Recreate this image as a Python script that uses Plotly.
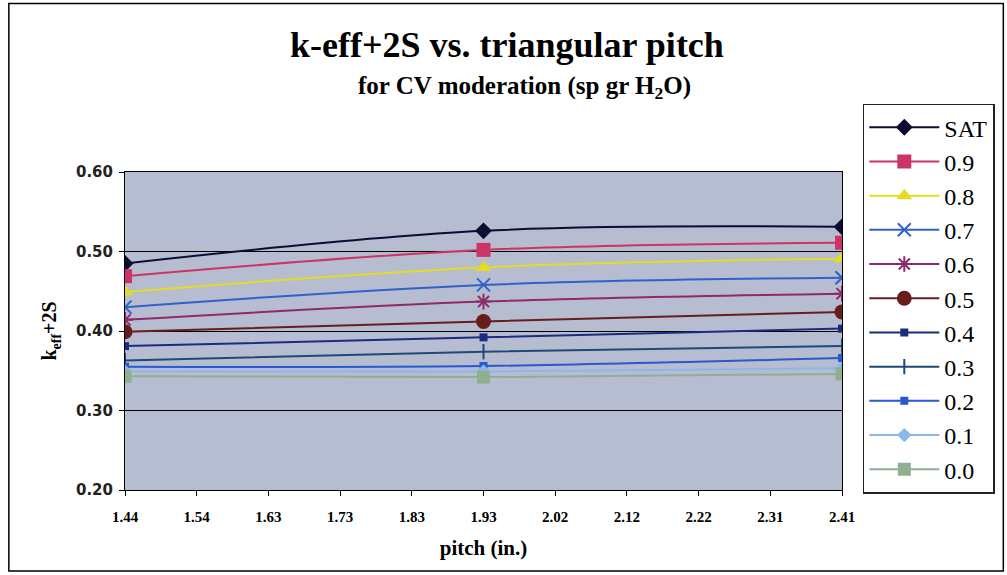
import numpy as np
import plotly.graph_objects as go

# ---- data ----
pitch = [1.44, 1.925, 2.41]
series_names = ["SAT", "0.9", "0.8", "0.7", "0.6", "0.5", "0.4", "0.3", "0.2", "0.1", "0.0"]
k_sat = [0.485, 0.526, 0.531]
k_09 = [0.469, 0.502, 0.511]
k_08 = [0.449, 0.480, 0.491]
k_07 = [0.430, 0.458, 0.467]
k_06 = [0.414, 0.437, 0.447]
k_05 = [0.399, 0.412, 0.424]
k_04 = [0.381, 0.392, 0.403]
k_03 = [0.363, 0.374, 0.381]
k_02 = [0.355, 0.356, 0.366]
k_01 = [0.349, 0.349, 0.353]
k_00 = [0.343, 0.342, 0.346]
series_values = [k_sat, k_09, k_08, k_07, k_06, k_05, k_04, k_03, k_02, k_01, k_00]

x_tick_labels = ["1.44", "1.54", "1.63", "1.73", "1.83", "1.93", "2.02", "2.12", "2.22", "2.31", "2.41"]
y_tick_labels = ["0.20", "0.30", "0.40", "0.50", "0.60"]

# ---- styles ----
SERIF = "Liberation Serif, Times New Roman, serif"
colors = ["#0d0d33", "#cc3366", "#e3dc22", "#2f62c8", "#8e2a68", "#6a1c1c",
          "#1c2a80", "#1f4a78", "#2a58d0", "#8ab8ec", "#8fb08f"]
symbols = ["diamond", "square", "triangle-up", "x-thin-open", "asterisk-open", "circle",
           "square", "line-ns-open", "square", "diamond", "square"]
sizes = [13, 14, 14, 13, 13, 15, 8, 11, 8, 11, 13]

fig = go.Figure()
for name, vals, c, s, sz in zip(series_names, series_values, colors, symbols, sizes):
    fig.add_trace(go.Scatter(
        x=pitch, y=vals, name=name, mode="lines+markers",
        line=dict(color=c, width=2, shape="spline", smoothing=1.0),
        marker=dict(symbol=s, size=sz, color=c, line=dict(color=c, width=2 if "open" in s else 0)),
    ))

tick_vals_x = np.linspace(1.44, 2.41, len(x_tick_labels))
tick_vals_y = [float(v) for v in y_tick_labels]

fig.update_layout(
    width=1007, height=575,
    margin=dict(l=125, r=162, t=172, b=85),
    paper_bgcolor="white",
    plot_bgcolor="#b6bdd0",
    font=dict(family=SERIF, color="black"),
    showlegend=True,
    legend=dict(
        x=1.029, y=1.215, xanchor="left", yanchor="top",
        bgcolor="white", bordercolor="#222", borderwidth=1.5,
        font=dict(family=SERIF, size=24, color="black"),
        tracegroupgap=0, itemwidth=70, maxheight=600,
    ),
    xaxis=dict(
        range=[1.44, 2.41], tickvals=tick_vals_x, ticktext=["<b>%s</b>" % t for t in x_tick_labels],
        showgrid=False, zeroline=False, showline=True, linecolor="black", linewidth=1,
        mirror=True, ticks="outside", ticklen=5, tickcolor="black", ticklabelstandoff=8,
        tickfont=dict(family=SERIF, size=15),
        title=dict(text="<b>pitch (in.)</b>", font=dict(family=SERIF, size=21), standoff=16),
    ),
    yaxis=dict(
        range=[0.2, 0.6], tickvals=tick_vals_y, ticktext=["<b>%s</b>" % t for t in y_tick_labels],
        showgrid=True, gridcolor="black", gridwidth=1, zeroline=False,
        showline=True, linecolor="black", linewidth=1, mirror=True,
        ticks="outside", ticklen=5, tickcolor="black", ticklabelstandoff=3,
        tickfont=dict(family="DejaVu Sans", size=15, color="#222"),
        title=dict(text="<b>k<sub>eff</sub>+2S</b>", font=dict(family=SERIF, size=20), standoff=13),
    ),
    annotations=[
        dict(text="<b>k-eff+2S vs. triangular pitch</b>", xref="paper", yref="paper",
             x=0.533, y=1.40, xanchor="center", yanchor="middle", showarrow=False,
             font=dict(family=SERIF, size=36, color="black")),
        dict(text="<b>for CV moderation (sp gr H<sub>2</sub>O)</b>", xref="paper", yref="paper",
             x=0.557, y=1.265, xanchor="center", yanchor="middle", showarrow=False,
             font=dict(family=SERIF, size=25, color="black")),
    ],
    shapes=[
        dict(type="rect", xref="paper", yref="paper",
             x0=-0.162, x1=1.225, y0=-0.255, y1=1.53,
             line=dict(color="black", width=1.5), fillcolor="rgba(0,0,0,0)", layer="below"),
    ],
)

fig.write_html("out.html")
